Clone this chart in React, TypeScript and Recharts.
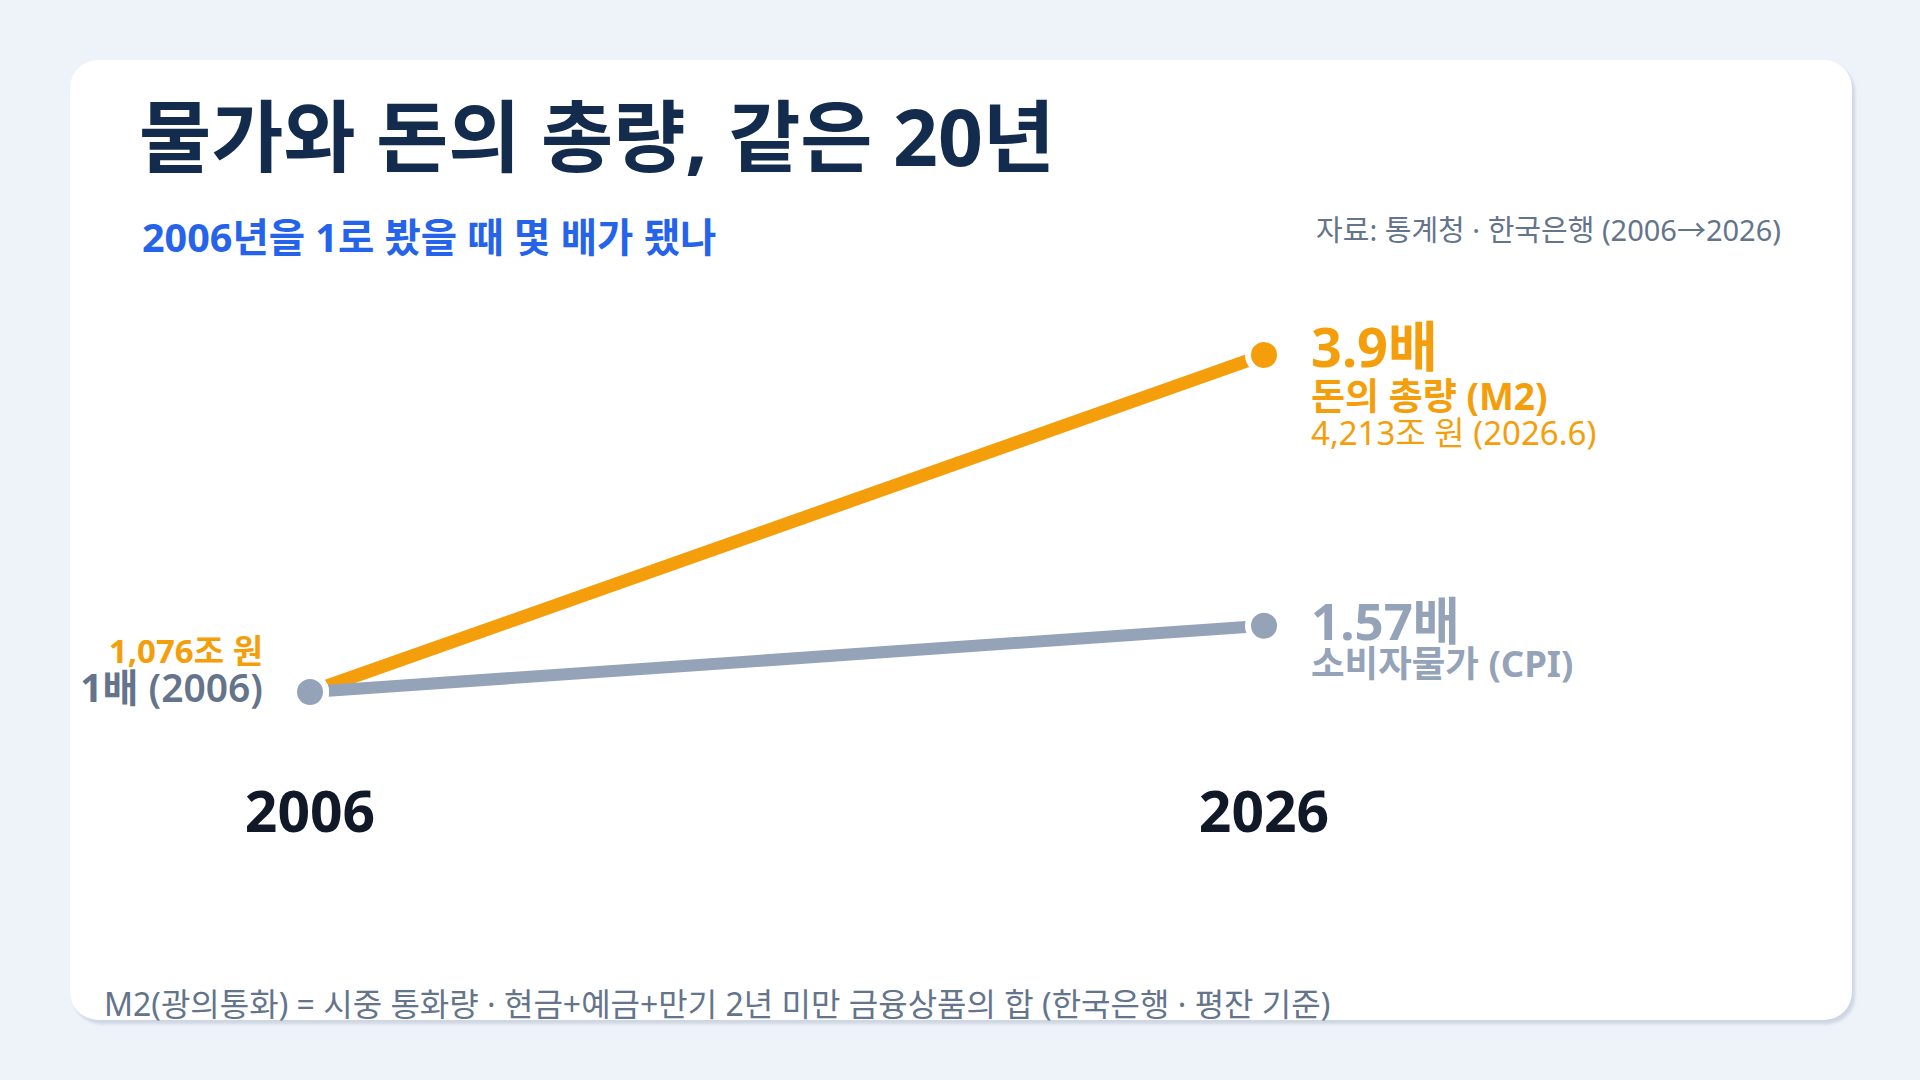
import React from 'react';
import { LineChart, Line, XAxis, YAxis, LabelList } from 'recharts';

// 2006 = 1 기준 배수
const years = [2006, 2026];
const m2Index = [1, 3.9];
const cpiIndex = [1, 1.57];
const m2Trillion = [1076, 4213];
const m2AsOf = ['2006', '2026.6'];
const yearTicks = [2006, 2026];

const m2Name = '돈의 총량 (M2)';
const cpiName = '소비자물가 (CPI)';

const ORANGE = '#F59E0B';
const SLATE = '#94A3B8';
const SLATE_DARK = '#64748B';
const FONT = "'Noto Sans', 'Noto Sans CJK KR', sans-serif";

const data = years.map((year, i) => ({ year, m2: m2Index[i], cpi: cpiIndex[i] }));

const fmt = (n: number) => n.toLocaleString('en-US');

function pointOf(props: any) {
  const x = props.viewBox?.x ?? props.x;
  const y = props.viewBox?.y ?? props.y;
  return { x, y };
}

function M2Label(props: any) {
  const { x, y } = pointOf(props);
  if (props.index === 0) {
    return (
      <text x={x - 47} y={y - 29} textAnchor="end" fill={ORANGE} fontSize={33} fontWeight={700} fontFamily={FONT}>
        {fmt(m2Trillion[0])}조 원
      </text>
    );
  }
  return (
    <g fontFamily={FONT} fill={ORANGE}>
      <text x={x + 47} y={y + 12} fontSize={54} fontWeight={700}>{props.value}배</text>
      <text x={x + 47} y={y + 55} fontSize={37} fontWeight={700}>{m2Name}</text>
      <text x={x + 47} y={y + 90} fontSize={33} fontWeight={400}>
        {fmt(m2Trillion[1])}조 원 ({m2AsOf[1]})
      </text>
    </g>
  );
}

function CpiLabel(props: any) {
  const { x, y } = pointOf(props);
  if (props.index === 0) {
    return (
      <text x={x - 47} y={y + 10} textAnchor="end" fill={SLATE_DARK} fontSize={39} fontFamily={FONT}>
        <tspan fontWeight={700}>{props.value}배</tspan>
        <tspan fontWeight={600}> ({years[0]})</tspan>
      </text>
    );
  }
  return (
    <g fontFamily={FONT} fill={SLATE}>
      <text x={x + 47} y={y + 14} fontSize={51} fontWeight={700}>{props.value}배</text>
      <text x={x + 47} y={y + 51} fontSize={36.5} fontWeight={700}>{cpiName}</text>
    </g>
  );
}

function YearTick(props: any) {
  const { x, y, payload } = props;
  return (
    <text x={x} y={y} dy={24} textAnchor="middle" fill="#111827" fontSize={57} fontWeight={700} fontFamily={FONT}>
      {payload.value}
    </text>
  );
}

export default function App() {
  return (
    <div
      style={{
        position: 'absolute',
        left: 0,
        top: 0,
        width: 1920,
        height: 1080,
        background: '#EEF2F9',
        fontFamily: FONT,
        overflow: 'hidden',
      }}
    >
      <div
        style={{
          position: 'absolute',
          left: 70,
          top: 60,
          width: 1782,
          height: 960,
          background: '#fff',
          borderRadius: 28,
          boxShadow: '3px 4px 3px rgba(148,163,184,0.35)',
        }}
      />
      <svg width={1920} height={1080} style={{ position: 'absolute', left: 0, top: 0 }} fontFamily={FONT}>
        <text x={139} y={166} fontSize={78.5} fontWeight={700} fill="#132B4D">
          물가와 돈의 총량, 같은 20년
        </text>
        <text x={142} y={252} fontSize={39.5} fontWeight={700} fill="#2563EB">
          2006년을 1로 봤을 때 몇 배가 됐나
        </text>
        <text x={1781} y={241} fontSize={29} textAnchor="end" fill={SLATE_DARK}>
          자료: 통계청 · 한국은행 (2006→2026)
        </text>
        <text x={104} y={1016} fontSize={32} fill={SLATE_DARK}>
          M2(광의통화) = 시중 통화량 · 현금+예금+만기 2년 미만 금융상품의 합 (한국은행 · 평잔 기준)
        </text>
      </svg>
      <div style={{ position: 'absolute', left: 0, top: 0 }}>
        <LineChart
          width={1920}
          height={1080}
          data={data}
          margin={{ top: 285.27, right: 656, bottom: 211.79, left: 310 }}
        >
          <XAxis
            dataKey="year"
            type="number"
            domain={[2006, 2026]}
            ticks={yearTicks}
            interval={0}
            axisLine={false}
            tickLine={false}
            tickSize={0}
            tickMargin={0}
            height={60}
            tick={<YearTick />}
          />
          <YAxis hide domain={[0, 4.5]} />
          <Line
            type="linear"
            dataKey="m2"
            stroke={ORANGE}
            strokeWidth={13}
            dot={{ r: 16, fill: ORANGE, stroke: '#fff', strokeWidth: 6 }}
            activeDot={false}
            isAnimationActive={false}
          >
            <LabelList dataKey="m2" content={<M2Label />} />
          </Line>
          <Line
            type="linear"
            dataKey="cpi"
            stroke={SLATE}
            strokeWidth={12}
            dot={{ r: 16, fill: SLATE, stroke: '#fff', strokeWidth: 6 }}
            activeDot={false}
            isAnimationActive={false}
          >
            <LabelList dataKey="cpi" content={<CpiLabel />} />
          </Line>
        </LineChart>
      </div>
    </div>
  );
}
